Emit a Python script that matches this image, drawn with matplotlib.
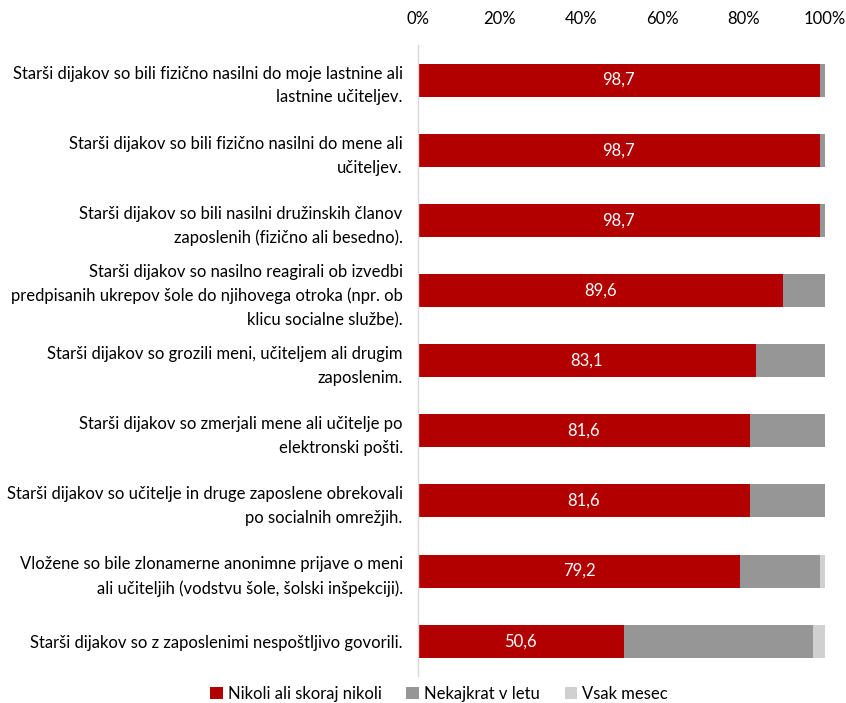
import matplotlib
matplotlib.use("Agg")
import matplotlib.pyplot as plt
import numpy as np

categories = [
    "Starši dijakov so bili fizično nasilni do moje lastnine ali\nlastnine učiteljev.",
    "Starši dijakov so bili fizično nasilni do mene ali\nučiteljev.",
    "Starši dijakov so bili nasilni družinskih članov\nzaposlenih (fizično ali besedno).",
    "Starši dijakov so nasilno reagirali ob izvedbi\npredpisanih ukrepov šole do njihovega otroka (npr. ob\nklicu socialne službe).",
    "Starši dijakov so grozili meni, učiteljem ali drugim\nzaposlenim.",
    "Starši dijakov so zmerjali mene ali učitelje po\nelektronski pošti.",
    "Starši dijakov so učitelje in druge zaposlene obrekovali\npo socialnih omrežjih.",
    "Vložene so bile zlonamerne anonimne prijave o meni\nali učiteljih (vodstvu šole, šolski inšpekciji).",
    "Starši dijakov so z zaposlenimi nespoštljivo govorili.",
]
series_names = ["Nikoli ali skoraj nikoli", "Nekajkrat v letu", "Vsak mesec"]
nikoli = [98.7, 98.7, 98.7, 89.6, 83.1, 81.6, 81.6, 79.2, 50.6]
nekajkrat = [1.3, 1.3, 1.3, 10.4, 16.9, 18.4, 18.4, 19.5, 46.6]
vsak_mesec = [0.0, 0.0, 0.0, 0.0, 0.0, 0.0, 0.0, 1.3, 2.8]
xticks = [0, 20, 40, 60, 80, 100]
xticklabels = ["0%", "20%", "40%", "60%", "80%", "100%"]

colors = ["#B20000", "#969696", "#D0D0D0"]

plt.rcParams["font.family"] = ["Lato", "DejaVu Sans"]
fs = 12

fig = plt.figure(figsize=(8.46, 7.03), dpi=100)
ax = fig.add_axes([0.494, 0.038, 0.481, 0.898])

y = np.arange(len(categories))
h = 0.47
b1 = ax.barh(y, nikoli, height=h, color=colors[0], label=series_names[0])
left2 = np.array(nikoli)
b2 = ax.barh(y, nekajkrat, left=left2, height=h, color=colors[1], label=series_names[1])
left3 = left2 + np.array(nekajkrat)
b3 = ax.barh(y, vsak_mesec, left=left3, height=h, color=colors[2], label=series_names[2])

for yi, v in zip(y, nikoli):
    ax.text(v / 2, yi, f"{v:.1f}".replace(".", ","), ha="center", va="center",
            color="white", fontsize=fs)

ax.set_ylim(len(categories) - 0.5, -0.5)
ax.set_xlim(0, 100)
ax.set_yticks(y)
ax.set_yticklabels(categories, fontsize=fs, ha="right", linespacing=1.6)
ax.set_xticks(xticks)
ax.set_xticklabels(xticklabels, fontsize=fs)
ax.xaxis.tick_top()
ax.tick_params(axis="both", length=0)
ax.tick_params(axis="y", pad=11)
ax.tick_params(axis="x", pad=13)
for s in ["top", "right", "bottom"]:
    ax.spines[s].set_visible(False)
ax.spines["left"].set_color("#D9D9D9")
ax.spines["left"].set_linewidth(1.0)

fig.legend(handles=[b1, b2, b3], labels=series_names, loc="center",
           bbox_to_anchor=(0.519, 0.013), ncol=3, frameon=False, fontsize=fs,
           handlelength=0.75, handleheight=0.75, handletextpad=0.3, columnspacing=1.5)

fig.savefig("out.png", dpi=100)
